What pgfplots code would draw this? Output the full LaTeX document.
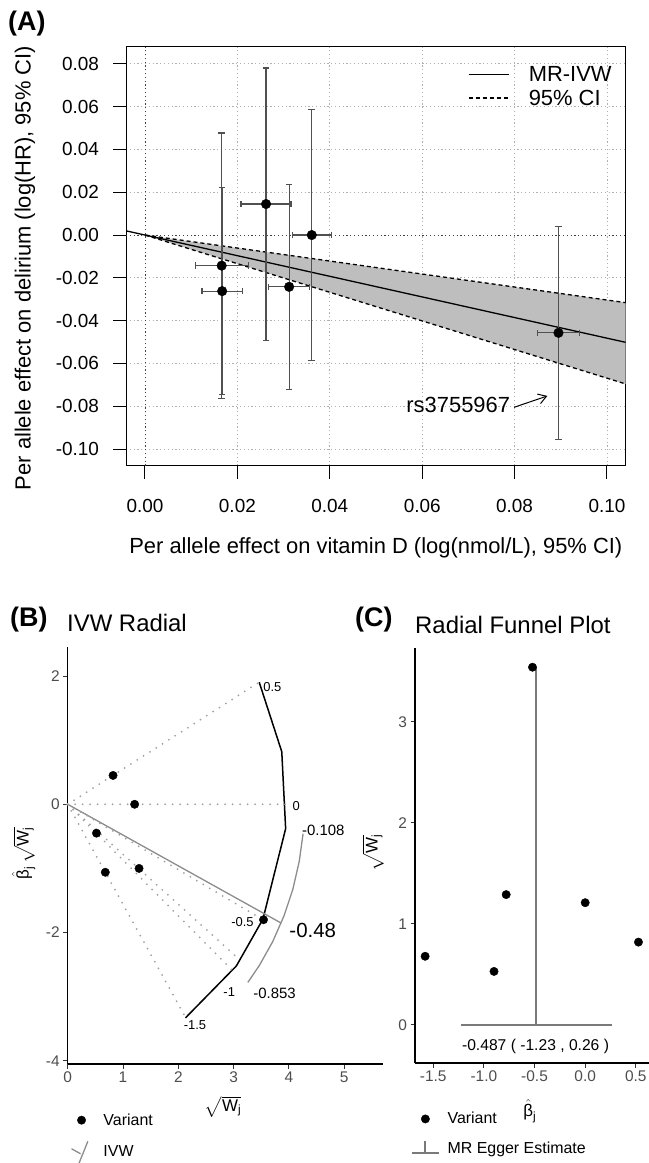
\documentclass[border=0pt]{standalone}
\usepackage{pgfplots}
\pgfplotsset{compat=1.18}
\usepackage{amsmath}
\usepackage{fontspec}
\setmainfont{Liberation Sans}
\usetikzlibrary{arrows.meta}
\definecolor{shade}{HTML}{BEBEBE}
\definecolor{ebar}{HTML}{505050}
\definecolor{gridc}{HTML}{B0B0B0}
\definecolor{tickc}{HTML}{4D4D4D}
\definecolor{rayc}{HTML}{A0A0A0}
\definecolor{ivwc}{HTML}{8C8C8C}
\definecolor{eggc}{HTML}{7A7A7A}
\begin{document}
\begin{tikzpicture}
\useasboundingbox (0,0) rectangle (649bp,1163bp);
% ---------------- Panel A ----------------
\node[anchor=base west, inner sep=0, font=\fontsize{27}{29}\selectfont\bfseries] at (8bp,1132bp) {(A)};
\begin{axis}[
  at={(126bp,697.3bp)}, anchor=south west,
  width=499.7bp, height=418.7bp, scale only axis,
  xmin=-0.00411, xmax=0.10405, ymin=-0.1078, ymax=0.0879,
  xtick={0,0.02,0.04,0.06,0.08,0.1},
  xticklabels={0.00,0.02,0.04,0.06,0.08,0.10},
  ytick={-0.1,-0.08,-0.06,-0.04,-0.02,0,0.02,0.04,0.06,0.08},
  yticklabels={-0.10,-0.08,-0.06,-0.04,-0.02,0.00,0.02,0.04,0.06,0.08},
  tick pos=left, tick align=outside, major tick length=13bp,
  tick style={black, line width=1bp},
  axis line style={line width=1bp},
  tick label style={font=\fontsize{19}{21}\selectfont},
  xticklabel style={yshift=-17bp},
  yticklabel style={xshift=-10.5bp},
  grid=major, major grid style={gridc, line width=0.8bp, dash pattern=on 1.2bp off 2.6bp},
  xlabel={Per allele effect on vitamin D (log(nmol/L), 95\% CI)},
  ylabel={Per allele effect on delirium (log(HR), 95\% CI)},
  label style={font=\fontsize{22}{24}\selectfont},
  xlabel style={at={(axis description cs:0.5,-0.1966)}, anchor=center},
  ylabel style={at={(axis description cs:-0.2021,0.472)}, anchor=center},
  legend style={draw=none, fill=none, at={(0.678,0.963)}, anchor=north west,
    font=\fontsize{22}{24}\selectfont, nodes={inner sep=1.5bp}, row sep=4bp,
    /tikz/every odd column/.append style={column sep=18bp}},
  legend cell align=left,
  legend image code/.code={\draw[#1] (0bp,0bp) -- (40bp,0bp);},
  clip=true,
]
\addplot[draw=none, fill=shade, forget plot] coordinates {(0,0) (0.10405,-0.0316) (0.10405,-0.0696) (0,0)};
\addplot[black!75, line width=0.9bp, dash pattern=on 1.2bp off 2.6bp, forget plot] coordinates {(0,-0.1078) (0,0.0879)};
\addplot[black!75, line width=0.9bp, dash pattern=on 1.2bp off 2.6bp, forget plot] coordinates {(-0.00411,0) (0.10405,0)};
\addplot[black, line width=1.3bp] coordinates {(-0.00411,0.00198) (0.10405,-0.05015)};
\addlegendentry{MR-IVW}
\addplot[black, line width=1.3bp, dash pattern=on 4bp off 3bp] coordinates {(0,0) (0.10405,-0.0316)};
\addlegendentry{95\% CI}
\addplot[black, line width=1.3bp, dash pattern=on 4bp off 3bp, forget plot] coordinates {(0,0) (0.10405,-0.0696)};
\addplot[only marks, mark=*, mark size=4.8bp, black, forget plot,
  error bars/.cd, x dir=both, y dir=both, x explicit, y explicit,
  error bar style={ebar, line width=1.2bp},
  error mark=-,
  error mark options={rotate=90, ebar, line width=1.2bp, mark size=3.3bp}]
  coordinates {
  (0.0166,-0.0143) +- (0.00575,0.0620)
  (0.0167,-0.0262) +- (0.00435,0.0485)
  (0.0262,0.0145) +- (0.0054,0.0636)
  (0.0361,0.0000) +- (0.00425,0.0588)
  (0.0312,-0.0242) +- (0.0044,0.0479)
  (0.0895,-0.0457) +- (0.00455,0.0497)
  };
\node[font=\fontsize{22}{24}\selectfont] at (axis cs:0.0678,-0.0794) {rs3755967};
\draw[-{Straight Barb[length=8bp,width=10bp]}, line width=1bp] (axis cs:0.0799,-0.0805) -- (axis cs:0.0871,-0.0752);
\end{axis}

% ---------------- Panel B ----------------
\node[anchor=base west, inner sep=0, font=\fontsize{27}{29}\selectfont\bfseries] at (10bp,536.3bp) {(B)};
\node[anchor=base west, inner sep=0, font=\fontsize{24}{26}\selectfont] at (67bp,531.3bp) {IVW Radial};
\begin{axis}[
  at={(67.7bp,99bp)}, anchor=south west,
  width=315.3bp, height=417bp, scale only axis,
  xmin=0, xmax=5.7, ymin=-4.05, ymax=2.453,
  axis x line*=bottom, axis y line*=left,
  axis line style={line width=1.3bp, -},
  xtick={0,1,2,3,4,5}, xticklabels={0,1,2,3,4,5},
  ytick={-4,-2,0,2}, yticklabels={-4,-2,0,2},
  tick align=outside, major tick length=4.5bp,
  tick style={black!80, line width=1bp},
  tick label style={font=\fontsize{15.5}{17}\selectfont, text=tickc},
  xlabel={$\sqrt{\text{W}_{\text{j}}}$},
  ylabel={$\hat{\text{β}}_{\text{j}}\,\sqrt{\text{W}_{\text{j}}}$},
  label style={font=\fontsize{17}{19}\selectfont, inner sep=0.5bp},
  xlabel style={at={(axis description cs:0.4925,-0.103)}, anchor=center},
  ylabel style={at={(axis description cs:-0.140,0.506)}, anchor=center},
  legend style={draw=none, fill=none, at={(0.0,-0.109)}, anchor=north west,
    font=\fontsize{16}{18}\selectfont, nodes={inner sep=2bp}, row sep=12bp,
    /tikz/every odd column/.append style={column sep=13bp}},
  legend cell align=left,
  clip=false,
]
\addlegendimage{only marks, mark=*, mark size=4.2bp, black}
\addlegendentry{Variant}
\addlegendimage{legend image code/.code={\draw[ivwc, line width=1.3bp] (5.8bp,-11.7bp) -- (14.8bp,10.7bp); \draw[ivwc, line width=1.3bp] (-1.5bp,3.3bp) -- (7.5bp,-1.7bp);}}
\addlegendentry{IVW}
\addplot[black, line width=1.5bp, forget plot] coordinates {(3.462,1.904) (3.87,0.82) (3.94,-0.38) (3.53,-1.79) (3.05,-2.52) (2.13,-3.33)};
\addplot[ivwc, line width=1.3bp, forget plot] coordinates {(4.255,-0.459) (4.186,-0.890) (4.071,-1.323) (3.910,-1.741) (3.707,-2.14) (3.463,-2.516) (3.256,-2.778)};
\addplot[ivwc, line width=1.3bp, forget plot] coordinates {(0,0) (3.86,-1.853)};
\addplot[only marks, mark=*, mark size=4.2bp, black, forget plot] coordinates {(0.82,0.45) (1.21,0) (0.52,-0.45) (0.68,-1.06) (1.29,-1.00) (3.54,-1.80)};
\addplot[rayc, line width=2bp, line cap=round, dash pattern=on 0bp off 7.5bp, forget plot] coordinates {(0,0) (3.462,1.904)};
\addplot[rayc, line width=2bp, line cap=round, dash pattern=on 0bp off 7.5bp, forget plot] coordinates {(0,0) (3.95,0)};
\addplot[rayc, line width=2bp, line cap=round, dash pattern=on 0bp off 7.5bp, forget plot] coordinates {(0,0) (3.519,-1.795)};
\addplot[rayc, line width=2bp, line cap=round, dash pattern=on 0bp off 7.5bp, forget plot] coordinates {(0,0) (3.115,-2.429)};
\addplot[rayc, line width=2bp, line cap=round, dash pattern=on 0bp off 7.5bp, forget plot] coordinates {(0,0) (2.980,-2.593)};
\addplot[rayc, line width=2bp, line cap=round, dash pattern=on 0bp off 7.5bp, forget plot] coordinates {(0,0) (2.132,-3.325)};
\node[font=\fontsize{13}{14}\selectfont] at (axis cs:3.70,1.83) {0.5};
\node[font=\fontsize{13}{14}\selectfont] at (axis cs:4.13,-0.02) {0};
\node[font=\fontsize{13}{14}\selectfont] at (axis cs:3.16,-1.83) {-0.5};
\node[font=\fontsize{13}{14}\selectfont] at (axis cs:2.92,-2.93) {-1};
\node[font=\fontsize{13}{14}\selectfont] at (axis cs:2.30,-3.45) {-1.5};
\node[font=\fontsize{15}{16}\selectfont] at (axis cs:4.62,-0.41) {-0.108};
\node[font=\fontsize{15}{16}\selectfont] at (axis cs:3.74,-2.95) {-0.853};
\node[font=\fontsize{20.5}{22}\selectfont] at (axis cs:4.43,-1.97) {-0.48};
\end{axis}

% ---------------- Panel C ----------------
\node[anchor=base west, inner sep=0, font=\fontsize{27}{29}\selectfont\bfseries] at (355bp,536.3bp) {(C)};
\node[anchor=base west, inner sep=0, font=\fontsize{24}{26}\selectfont] at (415bp,529.7bp) {Radial Funnel Plot};
\begin{axis}[
  at={(415bp,100bp)}, anchor=south west,
  width=234bp, height=415bp, scale only axis,
  xmin=-1.68, xmax=0.63, ymin=-0.376, ymax=3.73,
  axis x line*=bottom, axis y line*=left,
  axis line style={line width=1.3bp, -},
  xtick={-1.5,-1,-0.5,0,0.5}, xticklabels={-1.5,-1.0,-0.5,0.0,0.5},
  ytick={0,1,2,3}, yticklabels={0,1,2,3},
  tick align=outside, major tick length=4.5bp,
  tick style={black!80, line width=1bp},
  tick label style={font=\fontsize{15.5}{17}\selectfont, text=tickc},
  xlabel={$\hat{\text{β}}_{\text{j}}$},
  ylabel={$\sqrt{\text{W}_{\text{j}}}$},
  label style={font=\fontsize{17}{19}\selectfont, inner sep=0.5bp},
  xlabel style={at={(axis description cs:0.491,-0.116)}, anchor=center},
  ylabel style={at={(axis description cs:-0.179,0.506)}, anchor=center},
  legend style={draw=none, fill=none, at={(-0.03,-0.109)}, anchor=north west,
    font=\fontsize{16}{18}\selectfont, nodes={inner sep=2bp}, row sep=12bp,
    /tikz/every odd column/.append style={column sep=6bp}},
  legend cell align=left,
  clip=false,
]
\addlegendimage{only marks, mark=*, mark size=4.2bp, black}
\addlegendentry{Variant}
\addlegendimage{legend image code/.code={\draw[eggc, line width=1.8bp] (8.5bp,6.7bp) -- (8.5bp,-5bp); \draw[eggc, line width=1.8bp] (-4.8bp,-5bp) -- (21.8bp,-5bp);}}
\addlegendentry{MR Egger Estimate}
\addplot[eggc, line width=1.8bp, forget plot] coordinates {(-0.487,0) (-0.487,3.54)};
\addplot[eggc, line width=1.8bp, forget plot] coordinates {(-1.23,0) (0.26,0)};
\addplot[only marks, mark=*, mark size=4.2bp, black, forget plot] coordinates {(-1.58,0.68) (-0.90,0.53) (-0.78,1.29) (0.00,1.21) (0.526,0.82) (-0.52,3.54)};
\node[font=\fontsize{15.7}{17}\selectfont] at (axis cs:-0.49,-0.21) {-0.487 ( -1.23 , 0.26 )};
\end{axis}
\end{tikzpicture}
\end{document}
